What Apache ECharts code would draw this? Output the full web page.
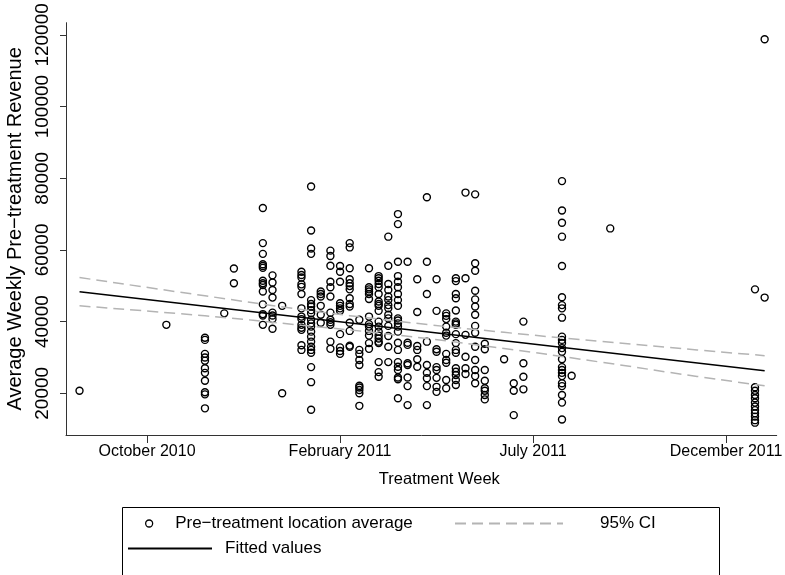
<!DOCTYPE html>
<html>
<head>
<meta charset="utf-8">
<script src="https://cdn.jsdelivr.net/npm/echarts@6/dist/echarts.min.js"></script>
<style>
  html, body { margin: 0; padding: 0; background: #fff; }
  #chart { width: 785px; height: 575px; }
</style>
</head>
<body>
<div id="chart"></div>
<script>
// x values are week numbers, ticks every 20 weeks
const tickWeeks = [40, 60, 80, 100];
const tickLabels = ['October 2010', 'February 2011', 'July 2011', 'December 2011'];
const revenueTicks = [20000, 40000, 60000, 80000, 100000, 120000];

// one entry per treatment week, with the location averages read at that week
const weeks = [33, 42, 46, 48, 49, 52, 53, 54, 56, 57, 58, 59, 60, 61, 62, 63, 64, 65, 66, 67,
    68, 69, 70, 71, 72, 73, 74, 75, 77, 78, 79, 83, 84, 88, 103, 104];
const revenueByWeek = [
    [20700],
    [39100],
    [35500, 34900, 31000, 30000, 29100, 27000, 25700, 23500, 20300, 19700, 15800],
    [42300],
    [54800, 50700],
    [71700, 61900, 58900, 56000, 55500, 55000, 51400, 50700, 50200, 48400, 44800, 42100, 41700, 39100],
    [52900, 50900, 48800, 46700, 42500, 41700, 40700, 38000],
    [44400, 20000],
    [53900, 53000, 52300, 50400, 49700, 47700, 43700, 41400, 40700, 39100, 38300, 37700, 33400, 32100],
    [77700, 65400, 60400, 58900, 46000, 44900, 44200, 43200, 42300, 40500, 39500, 38600, 37200, 35800,
        34400, 33000, 32100, 31300, 27300, 23100, 15400],
    [48400, 47700, 47000, 44400, 41900, 39700],
    [59800, 58300, 55600, 51100, 49600, 47000, 42500, 40500, 39800, 39100, 34400, 32400],
    [55500, 53900, 51100, 45100, 44400, 43700, 43000, 36500, 32800, 31800, 31000],
    [61900, 60700, 54900, 51800, 50700, 49900, 49000, 46500, 44900, 44200, 39700, 37400, 33300, 33000],
    [40500, 32100, 31000, 29300, 27900, 22100, 21600, 20900, 20000, 16500],
    [54900, 49600, 49000, 48400, 47700, 46300, 41400, 39300, 38600, 37400, 36100, 34000, 32400],
    [52700, 52100, 51400, 50500, 49600, 47700, 45600, 44900, 44400, 43000, 40000, 38600, 37200, 36100,
        35300, 34400, 34000, 28700, 25900, 24600],
    [63700, 55600, 50500, 48800, 47000, 46000, 44600, 43700, 41900, 40900, 38800, 36000, 33000, 28700],
    [70000, 67200, 56700, 52700, 51100, 49600, 47700, 46000, 44400, 40900, 40300, 39500, 38600, 37200,
        34100, 32100, 28700, 27400, 26500, 24400, 23900, 18600],
    [56700, 34100, 33500, 28400, 27900, 24400, 22000, 16700],
    [51800, 42700, 33200, 32100, 29500, 27400],
    [74700, 56700, 47700, 34400, 27900, 25700, 24200, 22000, 16700],
    [51800, 43000, 32300, 31600, 27300, 26500, 24300, 21800, 20400],
    [42300, 41600, 40700, 38600, 36900, 36100, 31000, 29300, 28500, 23700, 21400],
    [52100, 51300, 47700, 46500, 43100, 40000, 39500, 39100, 36500, 34000, 32100, 31300, 27000, 26000,
        25100, 23700, 22300],
    [76000, 52100, 36300, 30200, 27000, 25400],
    [75500, 56300, 54200, 48600, 46200, 44200, 41900, 38800, 36900, 33000, 29300, 26500, 24800, 22800],
    [33800, 32300, 26500, 23500, 21400, 20700, 19500, 18300],
    [29500],
    [22800, 20700, 13900],
    [40000, 28400, 24600, 21100],
    [79200, 71000, 67600, 63700, 55500, 46800, 44600, 43700, 41100, 35800, 34900, 34000, 32600, 31600,
        29500, 27300, 26500, 25700, 24800, 22800, 22000, 19500, 17400, 12700],
    [24900],
    [66000],
    [49000, 21700, 20700, 19500, 18600, 17400, 16300, 15300, 14400, 13500, 12500, 11800],
    [118800, 46700]
];

// fitted line and 95% CI
const fitWeeks = [33, 104];
const fitValues = [48350, 26300];
const ciWeeks = [33, 46, 56, 66, 77, 87, 97, 104];
const ciUpper = [52300, 47200, 43400, 40100, 37000, 34500, 32100, 30500];
const ciLower = [44400, 41600, 39000, 36200, 32500, 28700, 24700, 22100];

const FONT = '"Liberation Sans", Arial, Helvetica, sans-serif';
const SCATTER_NAME = 'Pre\u2212treatment location average';

const points = weeks.flatMap((w, i) => revenueByWeek[i].map(v => [w, v]));
const pair = (xs, ys) => xs.map((x, i) => [x, ys[i]]);

const chart = echarts.init(document.getElementById('chart'), null, { renderer: 'canvas' });

const legendText = { fontFamily: FONT, fontSize: 17, color: '#000' };

const option = {
    animation: false,
    backgroundColor: '#fff',
    textStyle: { fontFamily: FONT, color: '#000' },
    grid: {
        left: 66,
        right: 8.3,
        top: 22.7,
        bottom: 140,
        containLabel: false,
        outerBoundsMode: 'none'
    },
    xAxis: {
        type: 'value',
        min: 31.6,
        max: 105.25,
        name: 'Treatment Week',
        nameLocation: 'middle',
        nameGap: 36,
        nameTextStyle: { fontFamily: FONT, fontSize: 16.5, color: '#000', padding: [0, 0, 0, 36] },
        axisLine: { show: true, onZero: false, lineStyle: { color: '#333', width: 1 } },
        axisTick: { show: true, length: 8, customValues: tickWeeks, lineStyle: { color: '#333' } },
        axisLabel: {
            customValues: tickWeeks,
            margin: 9,
            fontFamily: FONT,
            fontSize: 16,
            color: '#000',
            formatter: v => tickLabels[tickWeeks.indexOf(v)] || ''
        },
        splitLine: { show: false }
    },
    yAxis: {
        type: 'value',
        min: 8360,
        max: 123400,
        name: 'Average Weekly Pre\u2212treatment Revenue',
        nameLocation: 'middle',
        nameGap: 37,
        nameTextStyle: { fontFamily: FONT, fontSize: 20, color: '#000' },
        axisLine: { show: true, onZero: false, lineStyle: { color: '#333', width: 1 } },
        axisTick: { show: true, length: 6, customValues: revenueTicks, lineStyle: { color: '#333' } },
        axisLabel: {
            customValues: revenueTicks,
            rotate: 90,
            margin: 14,
            fontFamily: FONT,
            fontSize: 19,
            color: '#000',
            formatter: v => String(v)
        },
        splitLine: { show: false }
    },
    legend: [
        {
            data: [{
                name: SCATTER_NAME,
                icon: 'circle',
                itemStyle: { color: 'rgba(0,0,0,0)', borderColor: '#000', borderWidth: 1.3 }
            }],
            left: 140, top: 510,
            itemWidth: 42, itemHeight: 7,
            textStyle: Object.assign({ padding: [0, 0, 0, 0] }, legendText),
            selectedMode: false
        },
        {
            data: [{ name: '95% CI', itemStyle: { opacity: 0 } }],
            left: 449, top: 510,
            itemWidth: 108, itemHeight: 14,
            textStyle: Object.assign({ padding: [0, 0, 0, 32] }, legendText),
            selectedMode: false
        },
        {
            data: [{ name: 'Fitted values', itemStyle: { opacity: 0 } }],
            left: 122, top: 535,
            itemWidth: 84, itemHeight: 14,
            textStyle: Object.assign({ padding: [0, 0, 0, 8] }, legendText),
            selectedMode: false
        }
    ],
    graphic: [{
        type: 'rect',
        left: 120, top: 505,
        shape: { width: 597, height: 90 },
        style: { fill: 'none', stroke: '#000', lineWidth: 1 },
        silent: true
    }],
    series: [
        {
            name: SCATTER_NAME,
            type: 'scatter',
            data: points,
            symbol: 'circle',
            symbolSize: 7,
            itemStyle: { color: 'rgba(0,0,0,0)', borderColor: '#000', borderWidth: 1.4, opacity: 1 },
            z: 2
        },
        {
            name: '95% CI',
            type: 'line',
            data: pair(ciWeeks, ciUpper),
            showSymbol: false,
            symbol: 'none',
            smooth: true,
            lineStyle: { color: '#b4b4b4', width: 1.5, type: [11, 6] },
            itemStyle: { color: '#b4b4b4' },
            z: 3
        },
        {
            name: '95% CI',
            type: 'line',
            data: pair(ciWeeks, ciLower),
            showSymbol: false,
            symbol: 'none',
            smooth: true,
            lineStyle: { color: '#b4b4b4', width: 1.5, type: [11, 6] },
            itemStyle: { color: '#b4b4b4' },
            z: 3
        },
        {
            name: 'Fitted values',
            type: 'line',
            data: pair(fitWeeks, fitValues),
            showSymbol: false,
            symbol: 'none',
            lineStyle: { color: '#000', width: 1.6 },
            itemStyle: { color: '#000' },
            z: 4
        }
    ]
};

chart.setOption(option);
</script>
</body>
</html>
